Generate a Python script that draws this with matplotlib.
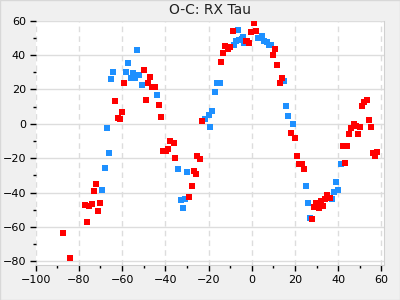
import numpy as np
import matplotlib
matplotlib.use('Agg')
import matplotlib.pyplot as plt
from matplotlib.ticker import MultipleLocator

# O-C values (epoch cycles in thousands, O-C in units)
red_x = [-87.3, -84.1, -76.2, -77.1, -75.3, -73.9, -70.2, -71.2, -72.1, -73.0,
         -50.0, -47.2, -48.1, -46.3, -44.7, -59.2, -63.3, -49.0, -43.0, -60.1,
         -61.9, -61.0, -42.1, -38.0, -36.1, -41.2, -39.8, -38.9, -35.3,
         -25.1, -24.1, -26.9, -26.0, -27.8, -29.2, -23.2, -14.0, -13.1, -12.2,
         -11.2, -9.9, -8.9, -2.5,
         1.2, -0.2, 2.1, -2.0, -1.1, 10.9, 10.0, 11.8, 14.1, 13.2, 18.2, 20.1,
         21.0, 21.9, 23.3, 24.2, 28.8, 29.8, 27.9,
         30.2, 31.2, 32.1, 33.0, 33.9, 34.8, 36.2, 43.1, 42.2, 44.1, 45.0, 45.9,
         47.3, 48.2, 50.0, 49.1, 51.0, 51.9, 53.3, 54.2, 55.1, 56.0, 57.0, 57.9]
red_y = [-63.4, -77.9, -57.0, -47.1, -47.7, -46.5, -45.9, -50.6, -34.9, -39.0,
         31.4, 27.3, 23.8, 21.5, 21.5, 23.8, 13.4, 14.0, 11.0, 7.0,
         3.5, 2.9, 4.1, -9.9, -11.0, -15.7, -15.7, -14.5, -19.6,
         -18.6, -20.3, -27.3, -29.1, -36.0, -42.4, 1.7, 36.0, 41.3, 45.3,
         43.6, 44.8, 54.1, 48.3,
         58.5, 53.5, 54.1, 48.3, 47.1, 43.6, 40.1, 34.3, 26.7, 23.8, -5.2, -8.1,
         -18.6, -23.3, -23.3, -26.2, -48.3, -45.9, -55.2,
         -45.9, -48.8, -44.8, -47.7, -43.6, -41.3, -43.0, -22.7, -12.8, -12.8, -5.8, -2.3,
         0.0, -1.2, -1.7, -5.8, 10.5, 12.8, 14.0, 2.3, -1.7, -16.9, -18.6, -16.3]

blue_x = [-69.3, -67.9, -66.1, -66.8,
          -53.2, -57.3, -64.2, -65.2, -58.2, -55.0, -55.8, -54.1, -52.3, -50.9,
          -44.0, -34.3,
          -30.1, -32.9, -31.1, -32.0, -21.4, -20.0, -18.2, -19.1, -17.2, -16.3,
          -14.9, -8.0, -7.1, -5.7, -4.3, -3.4, -6.2, -3.9, -2.9,
          3.0, 4.9, 5.8, 7.2, 8.1, 9.0, 15.0, 15.9, 16.9, 19.2, 25.2, 26.1, 27.0,
          37.1, 38.1, 39.9, 39.0, 41.3]
blue_y = [-38.4, -25.6, -16.9, -2.3,
          43.0, 35.5, 30.2, 26.2, 30.2, 29.7, 26.7, 26.7, 28.5, 22.7,
          16.9, -26.2,
          -27.9, -44.2, -43.6, -48.8, 2.9, 5.2, 7.6, -1.7, 18.6, 23.8,
          23.8, 45.9, 48.3, 48.8, 49.4, 47.1, 54.7, 50.6, 47.1,
          50.0, 51.2, 48.3, 47.7, 45.9, 45.9, 25.0, 10.5, 4.7, 0.0, -36.0, -45.9, -54.7,
          -43.6, -39.5, -38.4, -33.7, -23.3]

fig = plt.figure(figsize=(4, 3), dpi=100, facecolor='#f0f0f0')
ax = fig.add_axes([0.089, 0.117, 0.87, 0.814])
ax.set_facecolor('white')

ax.plot(blue_x, blue_y, 's', color='#1e90ff', markersize=4.3, markeredgewidth=0, zorder=3)
ax.plot(red_x, red_y, 's', color='#ff0000', markersize=4.3, markeredgewidth=0, zorder=3)

ax.set_xlim(-100, 61)
ax.set_ylim(-82, 60)
ax.xaxis.set_major_locator(MultipleLocator(20))
ax.xaxis.set_minor_locator(MultipleLocator(10))
ax.yaxis.set_major_locator(MultipleLocator(20))
ax.yaxis.set_minor_locator(MultipleLocator(10))

ax.grid(True, axis='y', which='major', color='#dddddd', linewidth=1, linestyle='-')
ax.grid(True, axis='x', which='major', color='#dddddd', linewidth=1, linestyle=(0, (4, 3)))
ax.set_axisbelow(True)

for s in ['left', 'top']:
    ax.spines[s].set_visible(False)
for s in ['right', 'bottom']:
    ax.spines[s].set_color('#d0d0d0')

ax.tick_params(which='major', length=4, width=1, labelsize=8, color='black', pad=3)
ax.tick_params(which='minor', length=2.5, width=1, color='black')

ax.set_title('O-C: RX Tau', fontsize=10, color='#222222', pad=5)

fig.patches.append(plt.Rectangle((0, 0), 1, 1, transform=fig.transFigure,
                                 fill=False, edgecolor='#d8d8d8', linewidth=1))

plt.savefig('out.png', dpi=100, facecolor=fig.get_facecolor())
